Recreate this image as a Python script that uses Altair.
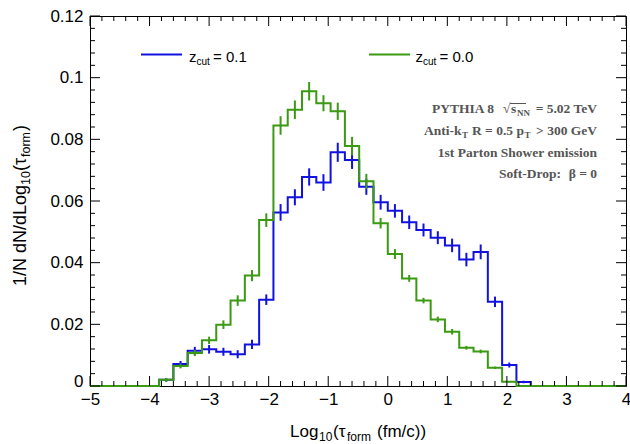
import altair as alt
import pandas as pd

# ---------------- data ----------------
edges = [-3.84, -3.60, -3.36, -3.12, -2.88, -2.64, -2.40, -2.16, -1.92, -1.68,
         -1.44, -1.20, -0.96, -0.72, -0.48, -0.24, 0.00, 0.24, 0.48, 0.72,
         0.96, 1.20, 1.44, 1.68, 1.92, 2.16, 2.40]

blue_vals = [0.0020, 0.0071, 0.0114, 0.0119, 0.0111, 0.0103, 0.0135, 0.0280,
             0.0563, 0.0612, 0.0678, 0.0660, 0.0758, 0.0733, 0.0646, 0.0596,
             0.0568, 0.0531, 0.0506, 0.0481, 0.0456, 0.0410, 0.0435, 0.0273,
             0.0068, 0.0013]
green_vals = [0.0020, 0.0065, 0.0107, 0.0148, 0.0199, 0.0277, 0.0358, 0.0538,
              0.0845, 0.0896, 0.0956, 0.0917, 0.0891, 0.0778, 0.0664, 0.0528,
              0.0428, 0.0349, 0.0277, 0.0216, 0.0176, 0.0124, 0.0112, 0.0059,
              0.0014, 0.0000]
blue_err = [0.0006, 0.0010, 0.0013, 0.0014, 0.0013, 0.0013, 0.0015, 0.0017,
            0.0027, 0.0026, 0.0028, 0.0027, 0.0031, 0.0029, 0.0026, 0.0024,
            0.0022, 0.0022, 0.0021, 0.0021, 0.0022, 0.0022, 0.0024, 0.0017,
            0.0008, 0.0004]
green_err = [0.0006, 0.0008, 0.0010, 0.0012, 0.0014, 0.0017, 0.0018, 0.0022,
             0.0030, 0.0030, 0.0030, 0.0026, 0.0028, 0.0030, 0.0024, 0.0017,
             0.0016, 0.0011, 0.0009, 0.0009, 0.0009, 0.0006, 0.0006, 0.0004,
             0.0002, 0.0000]

x_range = [-5, 4]
y_range = [0, 0.12]
x_major = [-5, -4, -3, -2, -1, 0, 1, 2, 3, 4]
y_major = [0, 0.02, 0.04, 0.06, 0.08, 0.10, 0.12]
x_minor = [round(-5 + 0.2 * i, 2) for i in range(46) if i % 5 != 0]
y_minor = [round(0.004 * i, 4) for i in range(31) if i % 5 != 0]

BLUE = "#1212e0"
GREEN = "#3a9a12"
W, H = 536, 370
SANS = "Liberation Sans"
SERIF = "Liberation Serif"

one = pd.DataFrame({"a": [0]})

xs = alt.Scale(domain=x_range, nice=False, zero=False)
ys = alt.Scale(domain=y_range, nice=False, zero=False)
xaxis = alt.Axis(values=x_major, ticks=False, domain=False, grid=False,
                 labelFont=SANS, labelFontSize=17, labelColor="black",
                 labelPadding=5, title=None, labelFlush=False, labelOverlap=False,
                 labelExpr="replace(format(datum.value, 'd'), '-', '\u2212')")
yaxis = alt.Axis(values=y_major, ticks=False, domain=False, grid=False,
                 labelFont=SANS, labelFontSize=17, labelColor="black",
                 labelPadding=7, title=None, labelFlush=False, labelOverlap=False,
                 labelExpr="format(datum.value, '.2~f')",
                 labelBaseline={"condition": {"test": "datum.value == 0",
                                              "value": "alphabetic"},
                                "value": "middle"})


def step_df(vals):
    xx = [x_range[0]] + edges[:-1] + [edges[-1], x_range[1]]
    yy = [0.0] + list(vals) + [0.0, 0.0]
    return pd.DataFrame({"x": xx, "y": yy})


def err_df(vals, errs):
    rows = []
    for i, (v, e) in enumerate(zip(vals, errs)):
        if e > 0:
            c = (edges[i] + edges[i + 1]) / 2
            rows.append({"x": c, "lo": v - e, "hi": v + e})
    return pd.DataFrame(rows)


def hist_layers(vals, errs, color):
    line = alt.Chart(step_df(vals)).mark_line(
        interpolate="step-after", color=color, strokeWidth=2
    ).encode(x=alt.X("x:Q", scale=xs, axis=xaxis),
             y=alt.Y("y:Q", scale=ys, axis=yaxis))
    eb = alt.Chart(err_df(vals, errs)).mark_rule(color=color, strokeWidth=2).encode(
        x=alt.X("x:Q", scale=xs, axis=xaxis),
        y=alt.Y("lo:Q", scale=ys, axis=yaxis),
        y2="hi:Q")
    return [line, eb]


def xticks(vals, length):
    df = pd.DataFrame({"x": vals})
    bot = alt.Chart(df).mark_rule(color="black", strokeWidth=1).encode(
        x=alt.X("x:Q", scale=xs, axis=xaxis), y=alt.value(H), y2=alt.value(H - length))
    top = alt.Chart(df).mark_rule(color="black", strokeWidth=1).encode(
        x=alt.X("x:Q", scale=xs, axis=xaxis), y=alt.value(0), y2=alt.value(length))
    return [bot, top]


def yticks(vals, length):
    df = pd.DataFrame({"y": vals})
    left = alt.Chart(df).mark_rule(color="black", strokeWidth=1).encode(
        y=alt.Y("y:Q", scale=ys, axis=yaxis), x=alt.value(0), x2=alt.value(length))
    right = alt.Chart(df).mark_rule(color="black", strokeWidth=1).encode(
        y=alt.Y("y:Q", scale=ys, axis=yaxis), x=alt.value(W), x2=alt.value(W - length))
    return [left, right]


def txt(s, x, y, size, font=SANS, weight="normal", color="black", align="left", angle=0):
    return alt.Chart(one).mark_text(
        align=align, baseline="alphabetic", font=font, fontSize=size,
        fontWeight=weight, color=color, angle=angle
    ).encode(x=alt.value(x), y=alt.value(y), text=alt.value(s))


def hline(x1, x2, y, color, width=2):
    return alt.Chart(one).mark_rule(color=color, strokeWidth=width).encode(
        x=alt.value(x1), x2=alt.value(x2), y=alt.value(y))


layers = []
layers += hist_layers(blue_vals, blue_err, BLUE)
layers += hist_layers(green_vals, green_err, GREEN)
layers += xticks(x_major, 10) + xticks(x_minor, 5)
layers += yticks(y_major, 10) + yticks(y_minor, 5)

# legend
layers += [
    hline(51, 92, 38.5, BLUE),
    txt("z", 99, 45.5, 15), txt("cut", 106.5, 48.5, 10), txt("= 0.1", 123, 45.5, 15),
    hline(279, 320, 38.5, GREEN),
    txt("z", 325.5, 45.5, 15), txt("cut", 333, 48.5, 10), txt("= 0.0", 349.5, 45.5, 15),
]

# annotation block
GRAY = "#555555"
AS = 13.5
layers += [
    txt("PYTHIA 8", 342, 97, AS, SERIF, "bold", GRAY),
    txt("\u221a", 413, 97, AS, SERIF, "bold", GRAY),
    hline(420, 436, 87.5, GRAY, 1),
    txt("s", 421, 97, AS, SERIF, "bold", GRAY),
    txt("NN", 427, 100, 9, SERIF, "bold", GRAY),
    txt("= 5.02 TeV", 507, 97, AS, SERIF, "bold", GRAY, align="right"),
    txt("Anti-k", 334, 119, AS, SERIF, "bold", GRAY),
    txt("T", 372, 122, 9, SERIF, "bold", GRAY),
    txt("R = 0.5 p", 382, 119, AS, SERIF, "bold", GRAY),
    txt("T", 434.5, 122, 9, SERIF, "bold", GRAY),
    txt("> 300 GeV", 507, 119, AS, SERIF, "bold", GRAY, align="right"),
    txt("1st Parton Shower emission", 507, 141, AS, SERIF, "bold", GRAY, align="right"),
    txt("Soft-Drop:", 409, 162, AS, SERIF, "bold", GRAY),
    txt("\u03b2 = 0", 507, 162, AS, SERIF, "bold", GRAY, align="right"),
]

# x title
layers += [
    txt("Log", 200, 421, 17),
    txt("10", 229, 425, 12),
    txt("(\u03c4", 243, 421, 17),
    txt("form", 257, 425, 12),
    txt("(fm/c))", 287, 421, 17),
]

# y title (rotated, reading upwards)
YX = -64
YS = 18
layers += [
    txt("1/N dN/dLog", YX, 270, YS, angle=270),
    txt("10", YX + 4, 169, 12.5, angle=270),
    txt("(\u03c4", YX, 155, YS, angle=270),
    txt("form", YX + 4, 141, 12.5, angle=270),
    txt(")", YX, 115, YS, angle=270),
]

chart = alt.layer(*layers).properties(
    width=W, height=H,
    autosize=alt.AutoSizeParams(type="none"),
    padding={"left": 90, "top": 16, "right": 4, "bottom": 58},
    background="white",
).configure_view(stroke="black", strokeWidth=1)

chart.save("out.html", embed_options={"renderer": "svg", "actions": False})
